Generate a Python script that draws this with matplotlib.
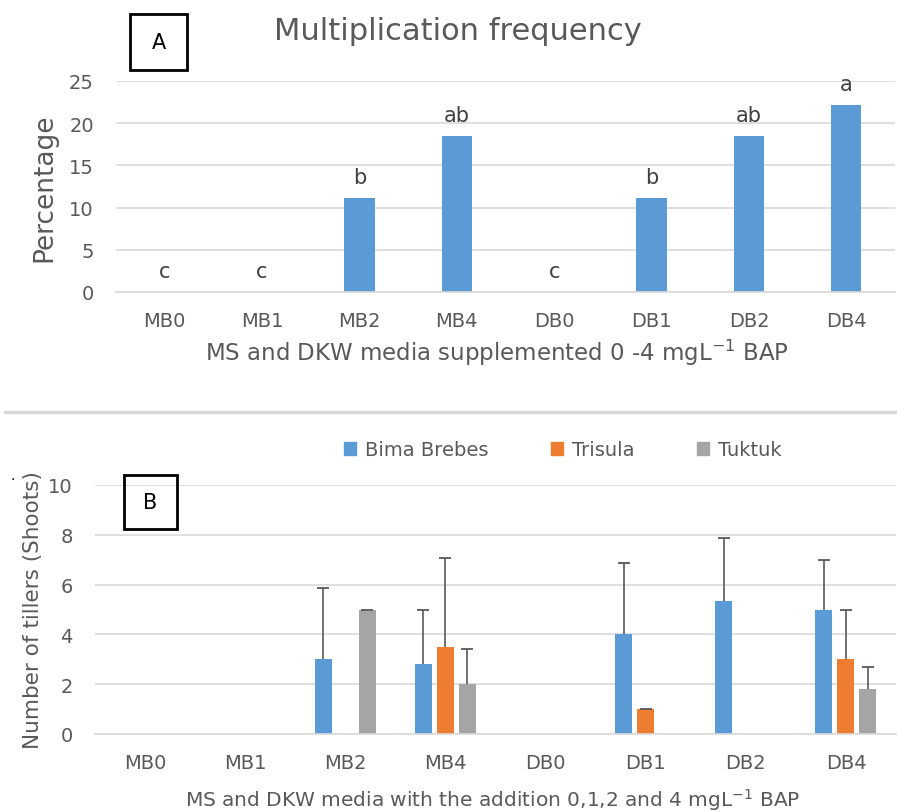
import matplotlib
matplotlib.use('Agg')
import matplotlib.pyplot as plt
from matplotlib.patches import Rectangle, Patch
from matplotlib.lines import Line2D
import numpy as np

# panel A data
media = ['MB0', 'MB1', 'MB2', 'MB4', 'DB0', 'DB1', 'DB2', 'DB4']
freq = [0, 0, 11.1, 18.5, 0, 11.1, 18.5, 22.2]
freq_letters = ['c', 'c', 'b', 'ab', 'c', 'b', 'ab', 'a']

# panel B data (mean, upper error)
varieties = ['Bima Brebes', 'Trisula', 'Tuktuk']
bima = [0, 0, 3.0, 2.8, 0, 4.0, 5.35, 5.0]
bima_err = [0, 0, 2.87, 2.2, 0, 2.87, 2.52, 2.0]
trisula = [0, 0, 0, 3.5, 0, 1.0, 0, 3.0]
trisula_err = [0, 0, 0, 3.55, 0, 0, 0, 2.0]
tuktuk = [0, 0, 5.0, 2.0, 0, 0, 0, 1.8]
tuktuk_err = [0, 0, 0, 1.4, 0, 0, 0, 0.9]

blue = '#5b9bd5'
orange = '#ed7d31'
gray = '#a5a5a5'
txt = '#595959'
grid = '#d9d9d9'

W, H = 897, 812
fig = plt.figure(figsize=(W / 100, H / 100), dpi=100)

def px_axes(x0, y0, x1, y1):
    # pixel box (top-left origin) -> figure fraction axes
    return fig.add_axes([x0 / W, 1 - y1 / H, (x1 - x0) / W, (y1 - y0) / H])

def style(ax, ymax, step):
    ax.set_ylim(0, ymax)
    ax.set_yticks(np.arange(0, ymax + 0.01, step))
    ax.yaxis.grid(True, color=grid, lw=1.2)
    ax.set_axisbelow(True)
    for s in ['top', 'right', 'left']:
        ax.spines[s].set_visible(False)
    ax.spines['bottom'].set_color(grid)
    ax.spines['bottom'].set_linewidth(1.2)
    ax.tick_params(length=0, colors=txt, labelsize=14)
    ax.tick_params(axis='x', pad=14)
    ax.tick_params(axis='y', pad=16)

def label_box(x0, y0, x1, y1, s):
    fig.patches.append(Rectangle((x0 / W, 1 - y1 / H), (x1 - x0) / W, (y1 - y0) / H,
                                 transform=fig.transFigure, fill=False, ec='black', lw=2))
    fig.text((x0 + x1) / 2 / W, 1 - (y0 + y1) / 2 / H, s, ha='center', va='center',
             fontsize=15, color='black')

# ---- panel A ----
x = np.arange(len(media))
axa = px_axes(116, 82, 895, 293)
axa.bar(x, freq, width=0.31, color=blue)
axa.set_xlim(-0.5, len(media) - 0.5)
axa.set_xticks(x)
axa.set_xticklabels(media)
style(axa, 25, 5)
for xi, v, s in zip(x, freq, freq_letters):
    axa.annotate(s, (xi, v), xytext=(0, 8), textcoords='offset points',
                 ha='center', va='bottom', fontsize=15, color='#404040')
axa.set_ylabel('Percentage', fontsize=19, color=txt, labelpad=8)
fig.text(458 / W, 1 - 32 / H, 'Multiplication frequency', ha='center', va='center',
         fontsize=22, color=txt)
fig.text(497 / W, 1 - 353 / H, 'MS and DKW media supplemented 0 -4 mgL$^{-1}$ BAP',
         ha='center', va='center', fontsize=16.5, color=txt)
label_box(130, 15, 187, 71, 'A')

# separator
fig.add_artist(Line2D([5 / W, 1], [1 - 413 / H, 1 - 413 / H], transform=fig.transFigure,
                      color=grid, lw=2.5))

# ---- panel B ----
axb = px_axes(95, 486, 896, 735)
bw = 0.17
off = 0.22
for vals, errs, col, k in [(bima, bima_err, blue, -1), (trisula, trisula_err, orange, 0),
                           (tuktuk, tuktuk_err, gray, 1)]:
    vals = np.array(vals)
    errs = np.array(errs)
    axb.bar(x + k * off, vals, width=bw, color=col)
    m = vals > 0
    xs = x[m] + k * off
    axb.vlines(xs, vals[m], vals[m] + errs[m], color=txt, lw=1.2)
    axb.plot(xs, vals[m] + errs[m], ls='none', marker='_', ms=9, mew=1.3, color=txt)
axb.set_xlim(-0.5, len(media) - 0.5)
axb.set_xticks(x)
axb.set_xticklabels(media)
style(axb, 10, 2)
axb.set_ylabel('Number of tillers (Shoots)', fontsize=15.5, color=txt, labelpad=4)
fig.text(493 / W, 1 - 800 / H, 'MS and DKW media with the addition 0,1,2 and 4 mgL$^{-1}$ BAP',
         ha='center', va='center', fontsize=14.5, color=txt)
label_box(124, 476, 177, 530, 'B')
fig.text(13 / W, 1 - 476 / H, '.', ha='center', va='center', fontsize=10, color='black')

handles = [Patch(color=c) for c in (blue, orange, gray)]
fig.legend(handles, varieties, loc='center', bbox_to_anchor=(563 / W, 1 - 451 / H), ncol=3,
           frameon=False, fontsize=14, labelcolor=txt, handlelength=0.6, handleheight=0.6,
           handletextpad=0.5, columnspacing=3.2)

fig.savefig('out.png', dpi=100)
